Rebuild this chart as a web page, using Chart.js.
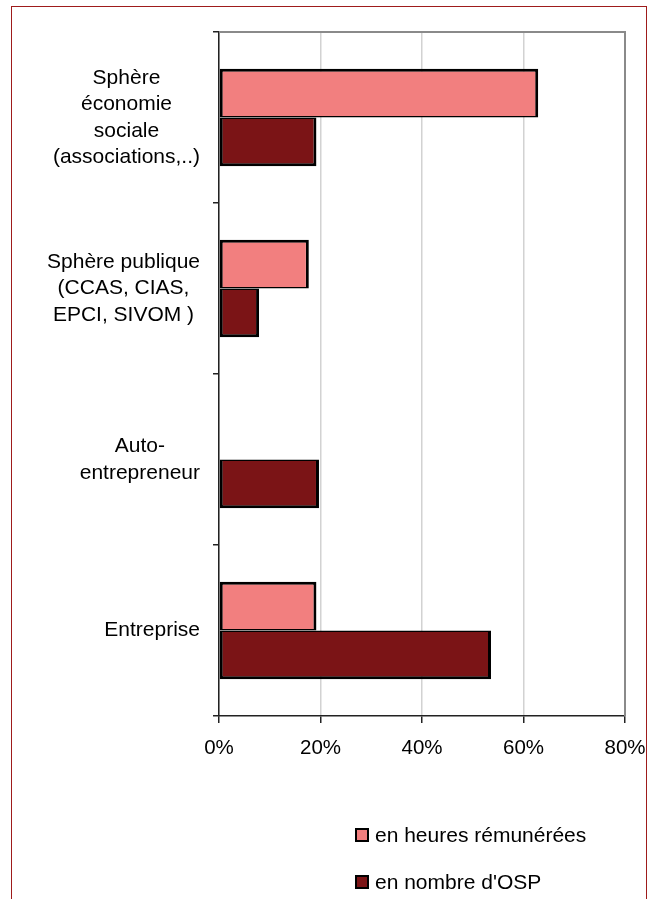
<!DOCTYPE html>
<html>
<head>
<meta charset="utf-8">
<script src="https://cdn.jsdelivr.net/npm/chart.js@4/dist/chart.umd.min.js"></script>
<style>
  html, body { margin: 0; padding: 0; background: #fff; }
  #wrap { position: relative; width: 659px; height: 899px; overflow: hidden; }
  #frame { position: absolute; left: 11px; top: 6px; width: 636px; height: 940px;
           border: 1px solid #9e1b1b; box-sizing: border-box; pointer-events: none; }
  #chart { position: absolute; left: 0; top: 0; }
  #legend { position: absolute; left: 355px; top: 823px;
            font: 21px "Liberation Sans", Arial, sans-serif; color: #000; }
  #legend .item { display: flex; align-items: center; height: 24px; margin-bottom: 23px; white-space: nowrap; }
  #legend .sw { width: 14px; height: 14px; border: 2px solid #000; box-sizing: border-box; margin-right: 6px; }
</style>
</head>
<body>
<div id="wrap">
  <canvas id="chart" width="659" height="899"></canvas>
  <div id="frame"></div>
  <div id="legend"></div>
</div>
<script>
// Categories, listed top to bottom, each split into its display lines
const categories = [
  ["Sphère", "économie", "sociale", "(associations,..)"],
  ["Sphère publique", "(CCAS, CIAS,", "EPCI, SIVOM )"],
  ["Auto-", "entrepreneur"],
  ["Entreprise"]
];

// Share of each sector, in percent
const seriesNames = ["en heures rémunérées", "en nombre d'OSP"];
const heuresRemunerees = [62.9, 17.7, 0, 19.2];
const nombreOSP = [19.2, 7.9, 19.7, 53.6];

// Value axis ticks (percent)
const xTickValues = [0, 20, 40, 60, 80];

const FONT_FAMILY = '"Liberation Sans", Arial, sans-serif';
const LABEL_SIZE = 21;
const TICK_SIZE = 20.5;
const LINE_HEIGHT = 26.5;

// Multi-line category labels: each block sits against the axis, lines centred within it
const categoryLabels = {
  id: 'categoryLabels',
  afterDraw(chart) {
    const scale = chart.scales.y;
    const ctx = chart.ctx;
    const gap = scale.options.grid.tickLength + 13;
    ctx.save();
    ctx.font = LABEL_SIZE + 'px ' + FONT_FAMILY;
    ctx.fillStyle = '#000';
    ctx.textAlign = 'center';
    ctx.textBaseline = 'middle';
    const right = scale.right - gap;
    categories.forEach((lines, i) => {
      const cy = scale.getPixelForTick(i);
      const w = Math.max(...lines.map(l => ctx.measureText(l).width));
      const cx = right - w / 2;
      const top = cy - (lines.length - 1) * LINE_HEIGHT / 2;
      lines.forEach((l, k) => ctx.fillText(l, cx, top + k * LINE_HEIGHT));
    });
    ctx.restore();
  }
};

// Grey top and right edges of the plot area
const plotFrame = {
  id: 'plotFrame',
  afterDatasetsDraw(chart) {
    const a = chart.chartArea;
    const ctx = chart.ctx;
    ctx.save();
    ctx.strokeStyle = '#8a8a8a';
    ctx.lineWidth = 2;
    ctx.beginPath();
    ctx.moveTo(a.left, a.top);
    ctx.lineTo(a.right, a.top);
    ctx.lineTo(a.right, a.bottom);
    ctx.stroke();
    ctx.restore();
  }
};

const chart = new Chart(document.getElementById('chart'), {
  type: 'bar',
  data: {
    labels: categories,
    datasets: [
      {
        label: seriesNames[0],
        data: heuresRemunerees,
        backgroundColor: '#f27f7f',
        borderColor: '#000',
        borderWidth: { top: 3, right: 3, bottom: 1.5, left: 3 },
        borderSkipped: false
      },
      {
        label: seriesNames[1],
        data: nombreOSP,
        backgroundColor: '#7b1416',
        borderColor: '#000',
        borderWidth: { top: 1.5, right: 3, bottom: 3, left: 3 },
        borderSkipped: false
      }
    ]
  },
  options: {
    indexAxis: 'y',
    responsive: false,
    animation: false,
    devicePixelRatio: 1,
    categoryPercentage: 2 / 3.5,
    barPercentage: 1,
    layout: { padding: { top: 32, right: 34, bottom: 133, left: 0 } },
    plugins: {
      legend: { display: false },
      tooltip: { enabled: false }
    },
    scales: {
      x: {
        min: 0,
        max: 80,
        afterBuildTicks(scale) {
          scale.ticks = xTickValues.map(v => ({ value: v }));
        },
        afterFit(scale) {
          scale.height = 50;
          scale.paddingLeft = 0;
          scale.paddingRight = 0;
        },
        border: { color: '#222', width: 1.5 },
        grid: { color: '#d2d2d2', lineWidth: 1.5, tickColor: '#222', tickLength: 7 },
        ticks: {
          color: '#000',
          padding: 13,
          maxRotation: 0,
          font: { family: FONT_FAMILY, size: TICK_SIZE },
          callback: v => v + '%'
        }
      },
      y: {
        offset: true,
        afterFit(scale) {
          scale.width = 219;
          scale.paddingTop = 0;
          scale.paddingBottom = 0;
        },
        border: { color: '#222', width: 1.5 },
        grid: { offset: true, drawOnChartArea: false, tickColor: '#222', tickLength: 6, lineWidth: 1.5 },
        ticks: {
          color: 'rgba(0,0,0,0)',
          font: { family: FONT_FAMILY, size: LABEL_SIZE }
        }
      }
    }
  },
  plugins: [categoryLabels, plotFrame]
});

// Legend stacked below the chart, built from the datasets
const legendEl = document.getElementById('legend');
chart.data.datasets.forEach(ds => {
  const item = document.createElement('div');
  item.className = 'item';
  const sw = document.createElement('span');
  sw.className = 'sw';
  sw.style.background = ds.backgroundColor;
  const txt = document.createElement('span');
  txt.textContent = ds.label;
  item.appendChild(sw);
  item.appendChild(txt);
  legendEl.appendChild(item);
});
</script>
</body>
</html>
